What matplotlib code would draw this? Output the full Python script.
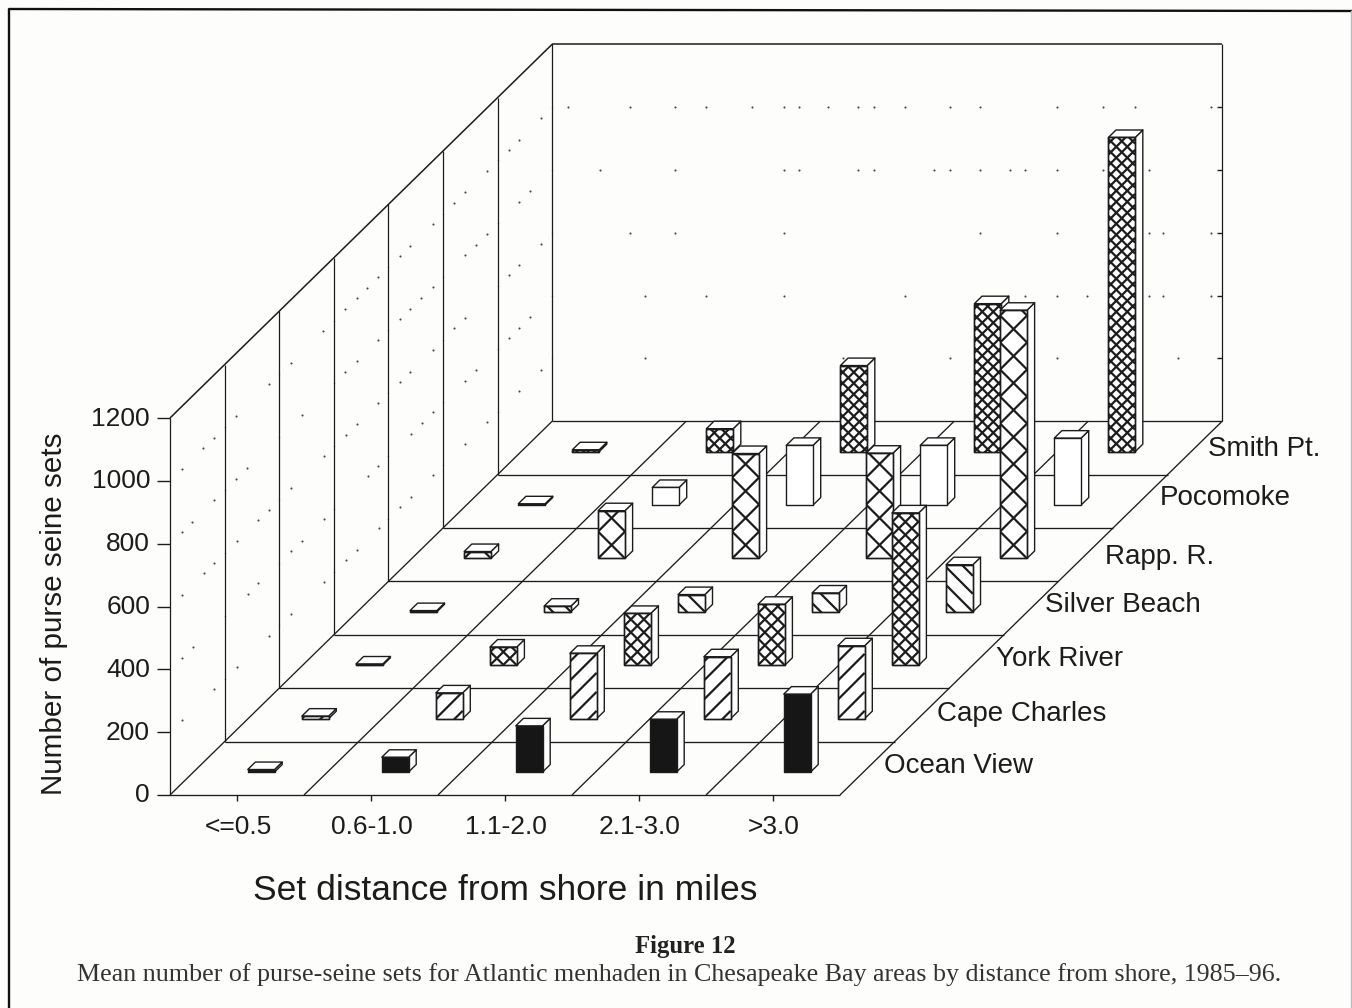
import matplotlib
matplotlib.use("Agg")
import matplotlib.pyplot as plt
from matplotlib.patches import Polygon
import numpy as np

# ---------- data ----------
distance_labels = ["<=0.5", "0.6-1.0", "1.1-2.0", "2.1-3.0", ">3.0"]
area_labels = ["Ocean View", "Cape Charles", "York River", "Silver Beach",
               "Rapp. R.", "Pocomoke", "Smith Pt."]
ocean_view = [8, 47, 147, 168, 248]
cape_charles = [8, 82, 208, 197, 232]
york_river = [4, 58, 165, 194, 485]
silver_beach = [4, 18, 55, 60, 150]
rapp_r = [22, 152, 334, 335, 790]
pocomoke = [4, 56, 190, 190, 213]
smith_pt = [6, 73, 274, 471, 1000]
area_values = [ocean_view, cape_charles, york_river, silver_beach, rapp_r, pocomoke, smith_pt]
z_ticks = [0, 200, 400, 600, 800, 1000, 1200]

# faint dots remaining of the dotted grid, by level; position along the wall
back_dots = {
    1000: [0.12, 0.58, 0.92, 1.15, 1.49, 1.73, 1.84, 2.06, 2.28, 2.40, 2.63, 2.97, 3.19, 3.77, 4.11, 4.35, 4.92],
    800: [0.36, 0.92, 1.73, 1.84, 2.28, 2.40, 2.85, 2.97, 3.19, 3.42, 3.53, 3.77, 4.11, 4.45],
    600: [0.58, 0.92, 1.73, 3.19, 3.77, 4.45, 4.56, 4.92],
    400: [0.69, 1.15, 1.73, 2.63, 3.53, 3.77, 3.99, 4.45, 4.56, 4.92],
    200: [0.69, 2.17, 2.97, 3.77, 4.67],
}
side_dots = {
    1000: [0.22, 0.61, 0.81, 1.21, 1.81, 2.21, 2.81, 3.21, 3.42, 3.61, 3.81, 4.21, 4.40, 4.81, 5.21, 5.40, 5.80, 6.20, 6.39, 6.79],
    800: [0.22, 0.41, 0.81, 1.21, 1.41, 2.41, 3.21, 3.42, 3.81, 4.21, 4.40, 4.60, 4.81, 5.40, 5.60, 5.80, 6.39, 6.60],
    600: [0.22, 0.62, 0.81, 1.22, 1.62, 1.81, 2.21, 2.82, 3.22, 3.42, 3.81, 4.21, 4.40, 4.81, 5.21, 5.40, 6.20, 6.39, 6.79],
    400: [0.22, 0.42, 1.42, 1.62, 2.21, 2.41, 2.82, 3.62, 3.81, 4.41, 4.61, 4.81, 5.40, 5.60, 6.20, 6.39, 6.60],
    200: [0.22, 0.81, 1.22, 1.81, 2.21, 2.82, 3.22, 3.42, 3.82, 4.21, 4.41, 4.81, 5.40, 5.80, 6.39, 6.79],
}

# ---------- styling ----------
INK = "#1c1c1c"
PAPER = "#fdfdfc"
SANS = "Liberation Sans"
SERIF = "Liberation Serif"
# per area: fill, hatch spacing (px, vertical), diagonal directions
styles = [
    ("#161616", 0, ()),
    ("white", 19, (1,)),
    ("white", 13, (1, -1)),
    ("white", 18, (-1,)),
    ("white", 27, (1, -1)),
    ("white", 0, ()),
    ("white", 11, (1, -1)),
]
row_label_x = [884, 937, 996, 1045, 1105, 1160, 1208]
row_label_y = [766, 714, 659, 605, 557, 498, 449]

# oblique projection: (column, row, value) to figure pixels
X0, Y0 = 170.0, 795.0
COL_W = 134.0
ROW_DX, ROW_DY = 54.6, 53.4
Z_K = 377.0 / 1200.0


def proj(col, row, z=0.0):
    return (X0 + COL_W * col + ROW_DX * row, Y0 - ROW_DY * row - Z_K * z)


fig = plt.figure(figsize=(13.52, 10.08), dpi=100, facecolor=PAPER)
ax = fig.add_axes([0, 0, 1, 1])
ax.set_xlim(0, 1352)
ax.set_ylim(1008, 0)
ax.axis("off")
n_col, n_row = len(distance_labels), len(area_labels)


def seg(a, b, lw=1.0, color=INK, zorder=2):
    ax.plot([a[0], b[0]], [a[1], b[1]], color=color, lw=lw, zorder=zorder, solid_capstyle="butt")


# page frame
ax.plot([9, 9, 1352], [1008, 9, 11], color="#111111", lw=1.7, zorder=1)
ax.plot([1350.5, 1350.5], [11, 1008], color="#bbbbbb", lw=1.0, zorder=1)

# walls
zmax = z_ticks[-1]
seg(proj(0, 0, 0), proj(0, 0, zmax), 0.9)
seg(proj(0, 0, zmax), proj(0, n_row, zmax), 1.1)
seg(proj(0, n_row, zmax), proj(n_col, n_row, zmax), 1.1)
seg(proj(n_col, n_row, zmax), proj(n_col, n_row, 0), 0.9)
for r in range(1, n_row + 1):
    seg(proj(0, r, 0), proj(0, r, zmax), 0.9)
    for z in z_ticks[1:-1]:
        p = proj(0, r, z)
        ax.plot([p[0]], [p[1]], ".", ms=2.0, mew=0, color=INK, zorder=2)

# floor
for r in range(0, n_row + 1):
    seg(proj(0, r), proj(n_col, r), 0.95)
for c in range(0, n_col + 1):
    seg(proj(c, 0), proj(c, n_row), 0.95)

# wall dots
for z, cols in back_dots.items():
    for c in cols:
        p = proj(c, n_row, z)
        ax.plot([p[0]], [p[1]], ".", ms=3.0, mew=0, color="#444444", zorder=2)
for z, rows in side_dots.items():
    for r in rows:
        p = proj(0, r, z)
        ax.plot([p[0]], [p[1]], ".", ms=3.0, mew=0, color="#444444", zorder=2)

# axis ticks
for z in z_ticks:
    a = proj(0, 0, z)
    seg((a[0] - 13, a[1]), a, 1.0)
    ax.text(a[0] - 20, a[1] + 0.5, str(z), ha="right", va="center", fontsize=19,
            family=SANS, color=INK)
    if 0 < z < zmax:
        b = proj(n_col, n_row, z)
        seg((b[0] - 5, b[1]), b, 1.0)
for c, lab in enumerate(distance_labels):
    a = proj(c + 0.5, 0)
    seg(a, (a[0], a[1] + 6), 1.0)
    ax.text(a[0] + 1, 827, lab, ha="center", va="center", fontsize=19, family=SANS, color=INK)

for r, lab in enumerate(area_labels):
    ax.text(row_label_x[r], row_label_y[r], lab, ha="left", va="center", fontsize=20,
            family=SANS, color=INK)

ax.text(54, 614, "Number of purse seine sets", rotation=90, ha="center", va="center",
        fontsize=21.3, family=SANS, color=INK)
ax.text(505, 890, "Set distance from shore in miles", ha="center", va="center",
        fontsize=25.5, family=SANS, color=INK)
ax.text(685, 946, "Figure 12", ha="center", va="center", fontsize=17.8, family=SERIF,
        weight="bold", color="#222222")
ax.text(679, 975, "Mean number of purse-seine sets for Atlantic menhaden in Chesapeake Bay areas by distance from shore, 1985\u201396.",
        ha="center", va="center", fontsize=18.7, family=SERIF, color="#333333")

# bars, from back to front
BAR_COL_W = 0.2
BAR_ROW_D = 0.14
z_base = 5
for r in range(n_row - 1, -1, -1):
    fill, spacing, dirs = styles[r]
    for c in range(n_col):
        v = area_values[r][c]
        cl = c + 0.405 - 0.0037 * r
        cr = cl + BAR_COL_W
        rf, rb = r + 0.5 - BAR_ROW_D / 2, r + 0.5 + BAR_ROW_D / 2
        face = [proj(cl, rf, 0), proj(cr, rf, 0), proj(cr, rf, v), proj(cl, rf, v)]
        side = [proj(cr, rf, 0), proj(cr, rb, 0), proj(cr, rb, v), proj(cr, rf, v)]
        top = [proj(cl, rf, v), proj(cr, rf, v), proj(cr, rb, v), proj(cl, rb, v)]
        for pts in (side, top):
            ax.add_patch(Polygon(pts, closed=True, fc="white", ec=INK, lw=1.0, zorder=z_base, joinstyle="round"))
        fp = Polygon(face, closed=True, fc=fill, ec=INK, lw=1.0, zorder=z_base, joinstyle="round")
        ax.add_patch(fp)
        if spacing:
            x0, y0 = face[0]
            x1 = face[1][0]
            h = y0 - face[2][1]
            w = x1 - x0
            for d in dirs:
                n = int((h + w) / spacing) + 2
                for k in range(-n, n + 1):
                    if d == 1:
                        ys = (y0 + k * spacing, y0 + k * spacing - w)
                    else:
                        ys = (y0 + k * spacing - w, y0 + k * spacing)
                    ln, = ax.plot([x0, x1], ys, color=INK, lw=1.6, zorder=z_base, solid_capstyle="butt")
                    ln.set_clip_path(fp)
            ax.add_patch(Polygon(face, closed=True, fc="none", ec=INK, lw=1.0, zorder=z_base))
        z_base += 0.01

fig.savefig("out.png", dpi=100, facecolor=PAPER)
